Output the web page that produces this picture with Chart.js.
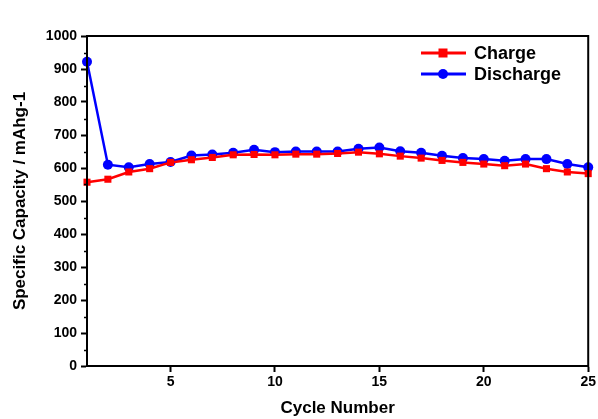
<!DOCTYPE html>
<html>
<head>
<meta charset="utf-8">
<script src="https://cdn.jsdelivr.net/npm/chart.js@4/dist/chart.umd.min.js"></script>
<style>
  html, body { margin: 0; padding: 0; background: #fff; }
  #wrap { width: 598px; height: 419px; position: relative; }
</style>
</head>
<body>
<div id="wrap"><canvas id="c"></canvas></div>
<script>
var cycles    = [1, 2, 3, 4, 5, 6, 7, 8, 9, 10, 11, 12, 13, 14, 15, 16, 17, 18, 19, 20, 21, 22, 23, 24, 25];
var charge    = [557, 566, 588, 598, 617, 625, 632, 640, 641, 640, 642, 642, 644, 648, 643, 636, 630, 623, 617, 612, 607, 612, 598, 588, 583];
var discharge = [922, 610, 602, 612, 618, 638, 641, 646, 655, 648, 650, 650, 650, 658, 662, 651, 646, 637, 630, 627, 622, 627, 627, 612, 602];
var xTicks    = [5, 10, 15, 20, 25];

var FONT = "Arial, 'Liberation Sans', sans-serif";

function pts(vals) {
  return cycles.map(function (c, i) { return { x: c, y: vals[i] }; });
}

// full box round the plot + short minor ticks on y
var framePlugin = {
  id: 'frame',
  afterDraw: function (chart) {
    var a = chart.chartArea, ctx = chart.ctx, y = chart.scales.y;
    ctx.save();
    ctx.strokeStyle = '#000';
    ctx.lineWidth = 2;
    ctx.strokeRect(a.left, a.top, a.right - a.left, a.bottom - a.top);
    ctx.beginPath();
    for (var v = 50; v < 1000; v += 100) {
      var py = Math.round(y.getPixelForValue(v)) + 0.5;
      ctx.moveTo(a.left - 3, py);
      ctx.lineTo(a.left, py);
    }
    ctx.lineWidth = 1.5;
    ctx.stroke();
    ctx.restore();
  }
};

// legend drawn inside the plot, top right
var legendPlugin = {
  id: 'inLegend',
  afterDraw: function (chart) {
    var ctx = chart.ctx;
    var rows = [
      { label: 'Charge', color: '#ff0000', shape: 'rect', y: 53 },
      { label: 'Discharge', color: '#0000ff', shape: 'circle', y: 74 }
    ];
    ctx.save();
    rows.forEach(function (r) {
      ctx.strokeStyle = r.color;
      ctx.fillStyle = r.color;
      ctx.lineWidth = 3;
      ctx.beginPath();
      ctx.moveTo(421, r.y);
      ctx.lineTo(466, r.y);
      ctx.stroke();
      if (r.shape === 'rect') {
        ctx.fillRect(443 - 4.5, r.y - 4.5, 9, 9);
      } else {
        ctx.beginPath();
        ctx.arc(443, r.y, 5, 0, Math.PI * 2);
        ctx.fill();
      }
      ctx.fillStyle = '#000';
      ctx.font = 'bold 18px ' + FONT;
      ctx.textBaseline = 'middle';
      ctx.textAlign = 'left';
      ctx.fillText(r.label, 474, r.y + 1);
    });
    ctx.restore();
  }
};

new Chart(document.getElementById('c'), {
  type: 'line',
  data: {
    datasets: [
      {
        label: 'Charge',
        data: pts(charge),
        borderColor: '#ff0000',
        backgroundColor: '#ff0000',
        borderWidth: 2.5,
        pointStyle: 'rect',
        pointRadius: 5,
        pointBorderWidth: 0,
        clip: false
      },
      {
        label: 'Discharge',
        data: pts(discharge),
        borderColor: '#0000ff',
        backgroundColor: '#0000ff',
        borderWidth: 2.5,
        pointStyle: 'circle',
        pointRadius: 5,
        pointBorderWidth: 0,
        clip: false
      }
    ]
  },
  options: {
    responsive: true,
    maintainAspectRatio: false,
    animation: false,
    layout: { padding: { top: 36, right: 8, bottom: 0, left: 0 } },
    plugins: { legend: { display: false }, tooltip: { enabled: false } },
    scales: {
      x: {
        type: 'linear',
        min: 1,
        max: 25,
        afterBuildTicks: function (axis) {
          axis.ticks = xTicks.map(function (v) { return { value: v }; });
        },
        afterFit: function (axis) { axis.height = 53; },
        grid: { drawOnChartArea: false, tickLength: 6, tickWidth: 2, tickColor: '#000' },
        border: { display: true, color: '#000', width: 2 },
        ticks: { color: '#000', font: { family: FONT, size: 14, weight: 'bold' }, padding: 2, maxRotation: 0 },
        title: { display: true, text: 'Cycle Number', color: '#000', font: { family: FONT, size: 17, weight: 'bold' }, padding: { top: 3, bottom: 0 } }
      },
      y: {
        min: 0,
        max: 1000,
        afterFit: function (axis) { axis.width = 87; },
        ticks: {
          stepSize: 100, color: '#000', font: { family: FONT, size: 14, weight: 'bold' }, padding: 4,
          callback: function (v) { return String(v); }
        },
        grid: { drawOnChartArea: false, tickLength: 6, tickWidth: 2, tickColor: '#000' },
        border: { display: true, color: '#000', width: 2 },
        title: { display: true, text: 'Specific Capacity / mAhg-1', color: '#000', font: { family: FONT, size: 17, weight: 'bold' }, padding: { top: 10, bottom: 2 } }
      }
    }
  },
  plugins: [framePlugin, legendPlugin]
});
</script>
</body>
</html>
